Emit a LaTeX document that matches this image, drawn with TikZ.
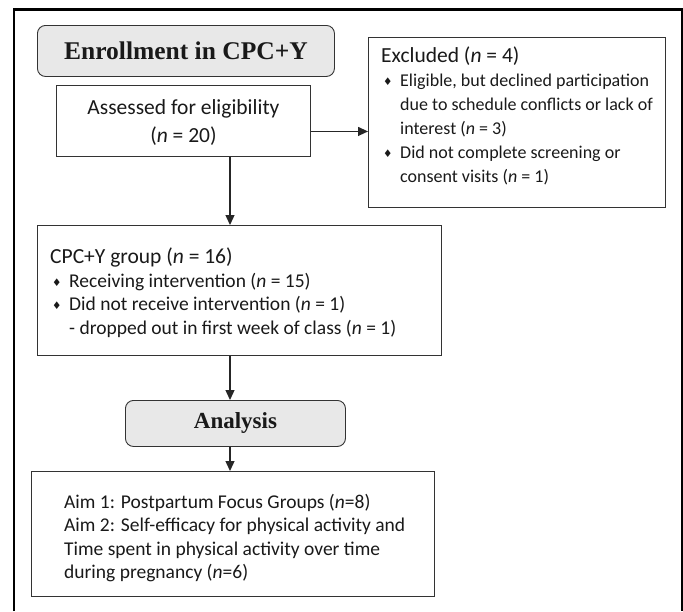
\documentclass[tikz,border=0pt]{standalone}
\usepackage{fontspec}
\setmainfont{Carlito}
\newfontfamily\tnr{Liberation Serif}
\newfontfamily\dvs{DejaVu Sans}
\usetikzlibrary{arrows.meta,calc}
\newcommand{\bul}{\makebox[19pt][l]{\hspace{2pt}{\dvs\fontsize{10.5}{10.5}\selectfont\raisebox{1pt}{♦}}}}
\newcommand{\ind}{\hspace*{19pt}}
\newcommand{\nn}{\textit{n}}
\begin{document}
\begin{tikzpicture}[x=1pt,y=-1pt,
  box/.style={draw=black!80, line width=0.9pt, inner sep=0pt, anchor=north west},
  rbox/.style={box, rounded corners=8pt, fill=black!9, font=\tnr\bfseries\fontsize{23}{26}\selectfont, text=black!90},
  body/.style={font=\fontsize{19.5}{23.5}\selectfont, align=left, inner sep=0pt, anchor=north west, text=black!90},
  head/.style={font=\fontsize{21.5}{28}\selectfont, align=center, inner sep=0pt, text=black!90},
  arr/.style={line width=1.3pt, draw=black!85, -{Triangle[length=10pt,width=9pt]}}]
\useasboundingbox (0,0) rectangle (683,611);
\draw[line width=2.5pt] (14,611) -- (14,9.5) -- (682,9.5) -- (682,611);
% boxes
\node[rbox, minimum width=297pt, minimum height=51pt, font=\tnr\bfseries\fontsize{25.5}{28}\selectfont] (enr) at (37,25) {Enrollment in CPC+Y};
\node[box, minimum width=254pt, minimum height=71pt] (ass) at (56,85) {};
\node[box, minimum width=297pt, minimum height=170pt] (excl) at (368,37) {};
\node[box, minimum width=404pt, minimum height=130pt] (cpc) at (37,225) {};
\node[rbox, minimum width=220pt, minimum height=46pt] (ana) at (125,400) {Analysis};
\node[box, minimum width=403pt, minimum height=125pt] (aim) at (31,471) {};
% texts
\node[head] (asstxt) at ([yshift=-1.5pt]ass.center) {Assessed for eligibility\\(\nn{} = 20)};
\node[body, font=\fontsize{18}{24}\selectfont] (excltxt) at (381,47) {{\fontsize{21.5}{25}\selectfont Excluded (\nn{} = 4)}\\
\bul Eligible, but declined participation\\
\ind due to schedule conflicts or lack of\\
\ind interest (\nn{} = 3)\\
\bul Did not complete screening or\\
\ind consent visits (\nn{} = 1)};
\node[body] (cpctxt) at (50,248) {{\fontsize{21.5}{24.5}\selectfont CPC+Y group (\nn{} = 16)}\\
\bul Receiving intervention (\nn{} = 15)\\
\bul Did not receive intervention (\nn{} = 1)\\
\ind - dropped out in first week of class (\nn{} = 1)};
\node[body] (aimtxt) at (64,494) {Aim 1: Postpartum Focus Groups (\nn=8)\\
Aim 2: Self-efficacy for physical activity and\\
Time spent in physical activity over time\\
during pregnancy (\nn=6)};
% connectors
\coordinate (vx) at (230,0);
\coordinate (p) at ([yshift=-10.5pt]ass.east);
\draw[arr] (p) -- (p -| excl.west);
\draw[arr] (ass.south -| vx) -- (cpc.north -| vx);
\draw[arr] (cpc.south -| vx) -- (ana.north -| vx);
\draw[arr] (ana.south -| vx) -- (aim.north -| vx);
\end{tikzpicture}
\end{document}
